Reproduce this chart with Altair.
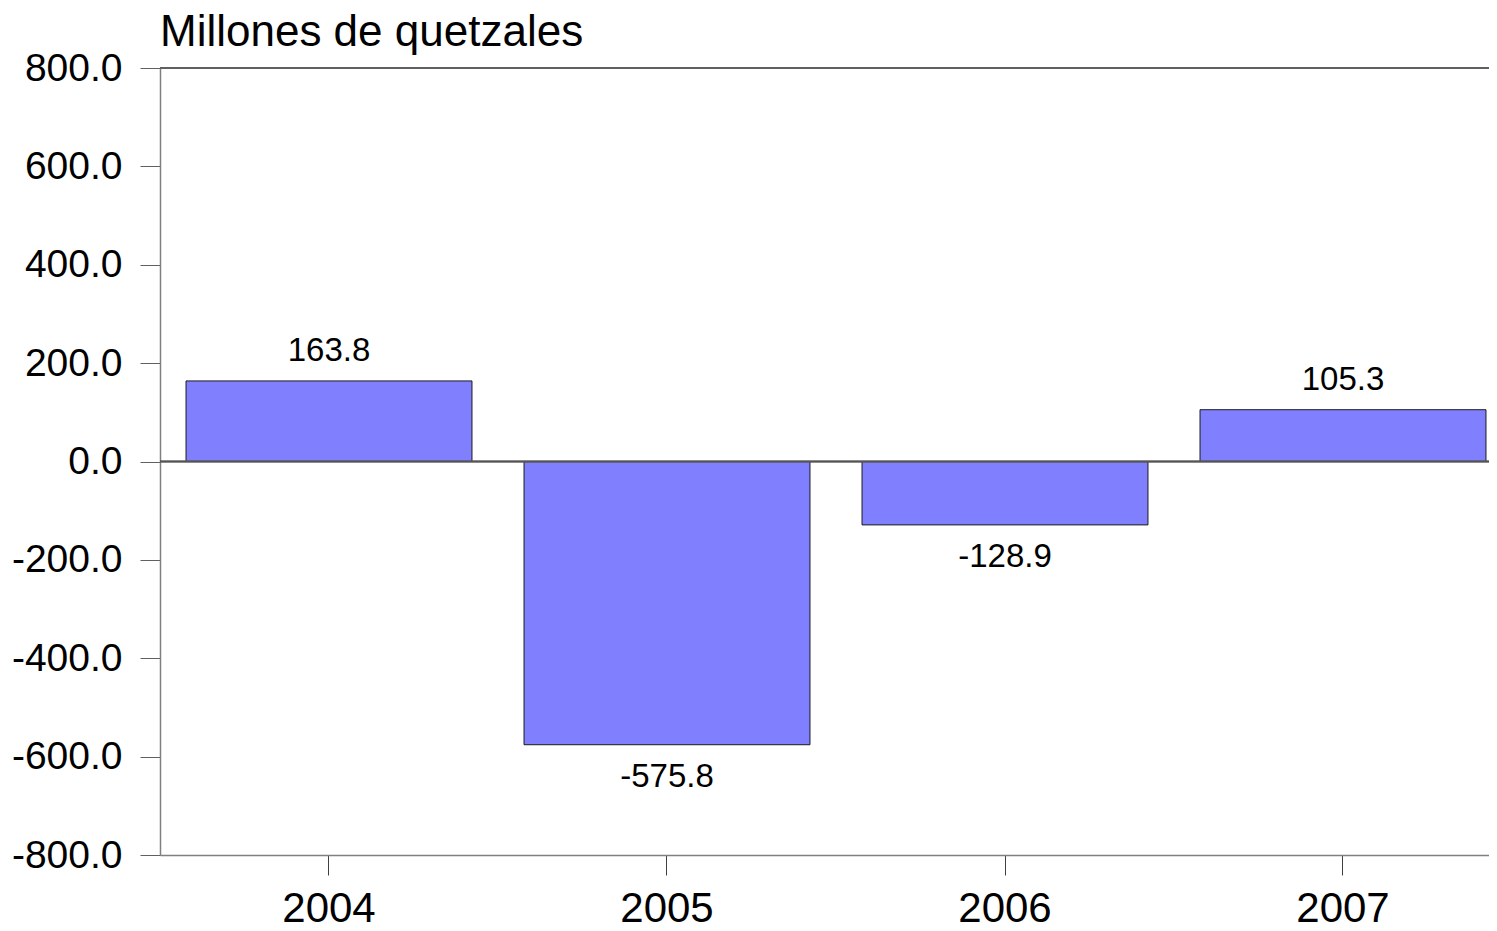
import altair as alt
import pandas as pd

years = ["2004", "2005", "2006", "2007"]
values = [163.8, -575.8, -128.9, 105.3]
y_ticks = [-800, -600, -400, -200, 0, 200, 400, 600, 800]
title_text = ["Millones de quetzales"]

df = pd.DataFrame({"year": years, "value": values})
df["label"] = [f"{v:.1f}" for v in values]
title_df = pd.DataFrame({"t": title_text})

FONT = "Liberation Sans"

x_scale = alt.Scale(paddingInner=0.154, paddingOuter=0.077, range=[0, 1352])
x_enc = alt.X(
    "year:N",
    sort=years,
    scale=x_scale,
    axis=alt.Axis(
        title=None,
        labelFontSize=42,
        labelFont=FONT,
        labelColor="black",
        labelAngle=0,
        labelBaseline="alphabetic",
        labelPadding=46,
        tickSize=20,
        tickColor="#404040",
        domainColor="#808080",
        domainWidth=1.5,
    ),
)
y_scale = alt.Scale(domain=[-800, 800], nice=False)
y_enc = alt.Y(
    "value:Q",
    scale=y_scale,
    axis=alt.Axis(
        title=None,
        values=y_ticks,
        format=".1f",
        labelExpr="replace(datum.label, '\u2212', '-')",
        labelFontSize=39,
        labelFont=FONT,
        labelColor="black",
        labelPadding=18,
        tickSize=20,
        tickColor="#606060",
        domainColor="#808080",
        domainWidth=1.5,
        grid=False,
    ),
)

bars = alt.Chart(df).mark_bar(
    fill="#8080FF", stroke="#1a1a1a", strokeWidth=1
).encode(x=x_enc, y=y_enc)

zero = alt.Chart(df).mark_rule(color="#555555", strokeWidth=1.5).encode(
    y=alt.datum(0, scale=y_scale),
    x=alt.value(0),
    x2=alt.value(1352),
)
top = alt.Chart(df).mark_rule(color="#606060", strokeWidth=1.5).encode(
    y=alt.datum(800, scale=y_scale),
    x=alt.value(0),
    x2=alt.value(1352),
)

pos_text = alt.Chart(df).transform_filter("datum.value >= 0").mark_text(
    fontSize=33, font=FONT, color="black", baseline="middle", dy=-30
).encode(
    x=alt.X("year:N", sort=years),
    y=alt.Y("value:Q"),
    text=alt.Text("label:N"),
)
neg_text = alt.Chart(df).transform_filter("datum.value < 0").mark_text(
    fontSize=33, font=FONT, color="black", baseline="middle", dy=32
).encode(
    x=alt.X("year:N", sort=years),
    y=alt.Y("value:Q"),
    text=alt.Text("label:N"),
)

title = alt.Chart(title_df).mark_text(
    fontSize=44, font=FONT, color="black", align="left", baseline="alphabetic"
).encode(
    x=alt.value(0),
    y=alt.value(-22),
    text=alt.Text("t:N"),
)

chart = alt.layer(bars, zero, top, pos_text, neg_text, title).properties(
    width=1329,
    height=787,
    autosize=alt.AutoSizeParams(type="none"),
    padding={"left": 152, "top": 60, "right": 0, "bottom": 68},
).configure_view(stroke=None).configure(background="white")

chart.save("out.html", embed_options={"renderer": "svg", "actions": False})
